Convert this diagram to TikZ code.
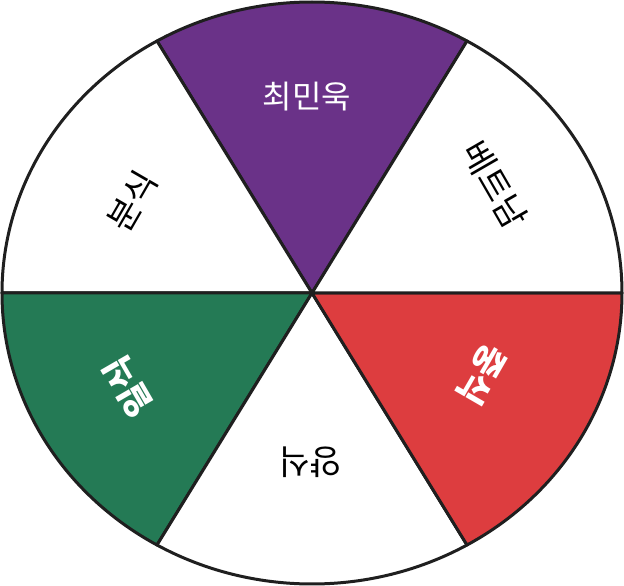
\documentclass[tikz,border=0pt]{standalone}
\usepackage{fontspec}
\newfontfamily\krfont{Noto Sans CJK KR}
\definecolor{wpurple}{RGB}{106,50,136}
\definecolor{wgreen}{RGB}{36,122,85}
\definecolor{wred}{RGB}{221,61,63}
\begin{document}
\begin{tikzpicture}[x=1pt,y=1pt,
  sector/.style={draw=black!88, line width=3pt, line join=round},
  lbl/.style={font=\krfont\fontsize{34}{34}\selectfont, inner sep=0pt},
  lblb/.style={font=\krfont\bfseries\fontsize{34}{34}\selectfont, inner sep=0pt}]
\useasboundingbox (-312,-293) rectangle (312,293);
\coordinate (o) at (0,0);
\filldraw[sector, fill=wpurple] (o) -- (60:310pt and 291pt) arc[start angle=60,end angle=120,x radius=310pt,y radius=291pt] -- cycle;
\filldraw[sector, fill=white] (o) -- (120:310pt and 291pt) arc[start angle=120,end angle=180,x radius=310pt,y radius=291pt] -- cycle;
\filldraw[sector, fill=wgreen] (o) -- (180:310pt and 291pt) arc[start angle=180,end angle=240,x radius=310pt,y radius=291pt] -- cycle;
\filldraw[sector, fill=white] (o) -- (240:310pt and 291pt) arc[start angle=240,end angle=300,x radius=310pt,y radius=291pt] -- cycle;
\filldraw[sector, fill=wred] (o) -- (300:310pt and 291pt) arc[start angle=300,end angle=360,x radius=310pt,y radius=291pt] -- cycle;
\filldraw[sector, fill=white] (o) -- (0:310pt and 291pt) arc[start angle=0,end angle=60,x radius=310pt,y radius=291pt] -- cycle;
\node[font=\krfont\fontsize{32}{32}\selectfont, inner sep=0pt, text=white] (s1) at (-5,196) {최민욱};
\node[lbl, rotate=-60] (s2) at (183,108) {베트남};
\node[lblb, text=white, rotate=-120] (s3) at (170,-82) {중식};
\node[lbl, rotate=180] (s4) at (-2,-169) {양식};
\node[lblb, text=white, rotate=120] (s5) at (-184,-94) {일식};
\node[lbl, rotate=60] (s6) at (-180,92) {분식};
\end{tikzpicture}
\end{document}
